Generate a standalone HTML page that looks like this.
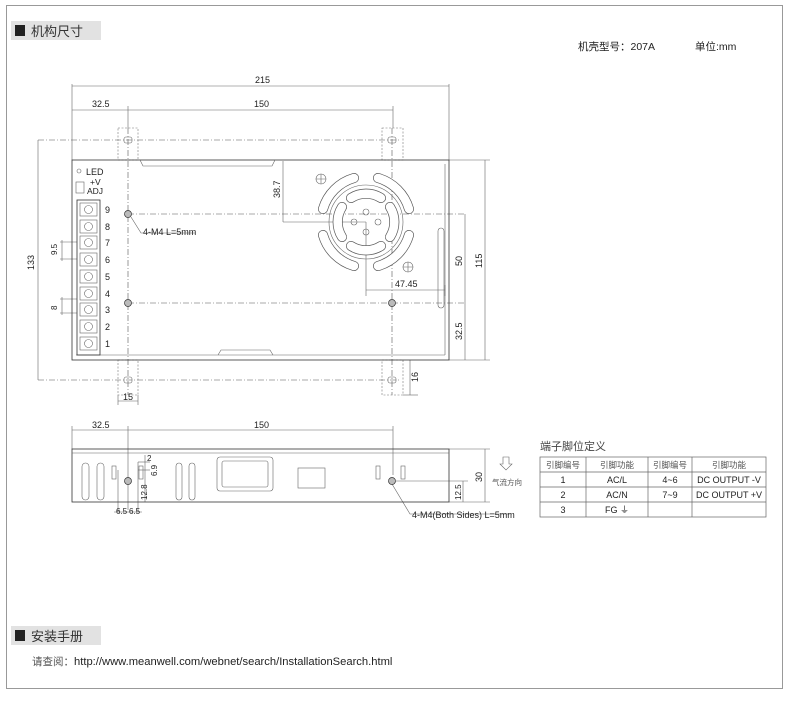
<!DOCTYPE html>
<html><head><meta charset="utf-8"><style>
html,body{margin:0;padding:0;background:#fff;}
svg{display:block;}
text{font-family:"Liberation Sans","Noto Sans CJK SC",sans-serif;fill:#222;}
.t{font-size:9px;}
.l{stroke:#333;stroke-width:0.8;fill:none;}
.g{stroke:#666;stroke-width:0.6;fill:none;}
.d{stroke:#555;stroke-width:0.6;fill:none;stroke-dasharray:6 2 1 2;}
.s{stroke:#777;stroke-width:0.6;fill:none;stroke-dasharray:2 1.5;}
</style></head><body>
<svg width="790" height="701" viewBox="0 0 790 701" xmlns="http://www.w3.org/2000/svg">
<rect x="6.5" y="5.5" width="776" height="683" fill="none" stroke="#999" stroke-width="1"/>
<!-- headings -->
<rect x="11" y="21" width="90" height="19" fill="#e2e2e2"/>
<rect x="15" y="25" width="10" height="11" fill="#222"/>
<text x="31" y="36" style="font-size:13px;fill:#333">机构尺寸</text>
<text x="578" y="50" style="font-size:10.5px">机壳型号：207A</text>
<text x="695" y="50" style="font-size:10.5px">单位:mm</text>
<rect x="11" y="626" width="90" height="19" fill="#e2e2e2"/>
<rect x="15" y="630" width="10" height="11" fill="#222"/>
<text x="31" y="641" style="font-size:13px;fill:#333">安装手册</text>
<text x="32" y="665" style="font-size:11.2px"><tspan style="font-size:10.5px;fill:#555">请查阅：</tspan>http://www.meanwell.com/webnet/search/InstallationSearch.html</text>

<!-- TOP VIEW dims -->
<g class="g">
<line x1="72" y1="86" x2="449" y2="86"/>
<line x1="72" y1="84" x2="72" y2="160"/><line x1="449" y1="84" x2="449" y2="160"/>
<line x1="72" y1="110" x2="393" y2="110"/>
<line x1="128" y1="106" x2="128" y2="128"/><line x1="393" y1="106" x2="393" y2="128"/>
<line x1="38" y1="140" x2="38" y2="380"/>
<line x1="485" y1="160" x2="485" y2="360"/>
<line x1="465" y1="214" x2="465" y2="360"/>
<line x1="449" y1="160" x2="490" y2="160"/><line x1="449" y1="360" x2="490" y2="360"/>
<line x1="283" y1="161" x2="283" y2="222"/><line x1="283" y1="222" x2="366" y2="222"/>
<line x1="366" y1="222" x2="366" y2="296"/>
<line x1="366" y1="290" x2="445" y2="290"/><line x1="445" y1="285" x2="445" y2="296"/>
<line x1="410" y1="360" x2="410" y2="395"/><line x1="403" y1="395" x2="418" y2="395"/>
<line x1="118" y1="401" x2="138" y2="401"/><line x1="118" y1="395" x2="118" y2="405"/><line x1="138" y1="395" x2="138" y2="405"/>
<line x1="60" y1="242" x2="77" y2="242"/><line x1="60" y1="259" x2="77" y2="259"/><line x1="62" y1="240" x2="62" y2="261"/>
<line x1="60" y1="299" x2="77" y2="299"/><line x1="60" y1="313" x2="77" y2="313"/><line x1="62" y1="297" x2="62" y2="315"/>
</g>
<g class="t">
<text x="255" y="83">215</text><text x="92" y="107">32.5</text><text x="254" y="107">150</text>
<text transform="translate(34,270) rotate(-90)">133</text>
<text transform="translate(482,268) rotate(-90)">115</text>
<text transform="translate(462,266) rotate(-90)">50</text>
<text transform="translate(462,340) rotate(-90)">32.5</text>
<text transform="translate(280,198) rotate(-90)">38.7</text>
<text x="395" y="287">47.45</text>
<text transform="translate(418,382) rotate(-90)">16</text>
<text x="123" y="400">15</text>
<text transform="translate(57,255) rotate(-90)" style="font-size:8px">9.5</text>
<text transform="translate(57,310) rotate(-90)" style="font-size:8px">8</text>
</g>
<!-- dash-dot center lines -->
<g class="d">
<line x1="38" y1="140" x2="400" y2="140"/>
<line x1="38" y1="380" x2="400" y2="380"/>
<line x1="128" y1="214" x2="465" y2="214"/>
<line x1="128" y1="303" x2="465" y2="303"/>
<line x1="128" y1="128" x2="128" y2="395"/>
<line x1="392" y1="128" x2="392" y2="395"/>
</g>
<!-- tabs -->
<g class="s">
<rect x="118" y="128" width="20" height="32"/><rect x="382" y="128" width="21" height="32"/>
<rect x="118" y="360" width="20" height="35"/><rect x="382" y="360" width="21" height="35"/>
</g>
<g class="g"><rect x="124" y="137" width="8" height="6" rx="2"/><rect x="388" y="137" width="8" height="6" rx="2"/>
<rect x="124" y="377" width="8" height="6" rx="2"/><rect x="388" y="377" width="8" height="6" rx="2"/></g>
<!-- body -->
<rect x="72" y="160" width="377" height="200" class="l"/>
<g class="g">
<line x1="76" y1="355" x2="445" y2="355"/><line x1="445" y1="164" x2="445" y2="355"/>
<path d="M140 160 l3 6 h129 l3 -6"/>
<path d="M218 355 l3 -5 h49 l3 5"/>
<rect x="438" y="228" width="6" height="80" rx="3"/>
</g>
<!-- terminals -->
<circle cx="79" cy="171" r="2" class="g"/>
<text x="86" y="175" class="t">LED</text>
<rect x="76" y="182" width="8" height="11" class="g"/>
<text x="90" y="185" class="t" style="font-size:8.5px">+V</text>
<text x="87" y="194" class="t" style="font-size:8.5px">ADJ</text>
<rect x="77" y="200" width="23" height="155" class="l"/>
<g class="g">
<rect x="80" y="203" width="17" height="13"/><rect x="80" y="220" width="17" height="13"/><rect x="80" y="236" width="17" height="13"/>
<rect x="80" y="253" width="17" height="13"/><rect x="80" y="270" width="17" height="13"/><rect x="80" y="287" width="17" height="13"/>
<rect x="80" y="303" width="17" height="13"/><rect x="80" y="320" width="17" height="13"/><rect x="80" y="337" width="17" height="13"/>
<circle cx="88.5" cy="209.5" r="4"/><circle cx="88.5" cy="226.5" r="4"/><circle cx="88.5" cy="242.5" r="4"/>
<circle cx="88.5" cy="259.5" r="4"/><circle cx="88.5" cy="276.5" r="4"/><circle cx="88.5" cy="293.5" r="4"/>
<circle cx="88.5" cy="309.5" r="4"/><circle cx="88.5" cy="326.5" r="4"/><circle cx="88.5" cy="343.5" r="4"/>
</g>
<g class="t"><text x="105" y="213">9</text><text x="105" y="230">8</text><text x="105" y="246">7</text><text x="105" y="263">6</text><text x="105" y="280">5</text><text x="105" y="297">4</text><text x="105" y="313">3</text><text x="105" y="330">2</text><text x="105" y="347">1</text></g>
<!-- holes -->
<g fill="#bbb" stroke="#333" stroke-width="0.7">
<circle cx="128" cy="214" r="3.5"/><circle cx="128" cy="303" r="3.5"/><circle cx="392" cy="214" r="3.5"/><circle cx="392" cy="303" r="3.5"/>
</g>
<path d="M131 217 l10 16 h54" class="g"/>
<text x="143" y="235" class="t">4-M4 L=5mm</text>
<!-- fan -->
<g transform="translate(366,222)">
<g stroke="#555" stroke-width="10" fill="none" stroke-linecap="round">
<path d="M -12 -44 A 45.5 45.5 0 0 0 -43 -13"/><path d="M 12 -44 A 45.5 45.5 0 0 1 43 -13"/>
<path d="M -12 44 A 45.5 45.5 0 0 1 -43 13"/><path d="M 12 44 A 45.5 45.5 0 0 0 43 13"/>
<path d="M -15 -24 A 28 28 0 0 1 15 -24"/><path d="M -15 24 A 28 28 0 0 0 15 24"/>
<path d="M -24 -15 A 28 28 0 0 0 -24 15"/><path d="M 24 -15 A 28 28 0 0 1 24 15"/>
</g>
<g stroke="#fff" stroke-width="8.6" fill="none" stroke-linecap="round">
<path d="M -12 -44 A 45.5 45.5 0 0 0 -43 -13"/><path d="M 12 -44 A 45.5 45.5 0 0 1 43 -13"/>
<path d="M -12 44 A 45.5 45.5 0 0 1 -43 13"/><path d="M 12 44 A 45.5 45.5 0 0 0 43 13"/>
<path d="M -15 -24 A 28 28 0 0 1 15 -24"/><path d="M -15 24 A 28 28 0 0 0 15 24"/>
<path d="M -24 -15 A 28 28 0 0 0 -24 15"/><path d="M 24 -15 A 28 28 0 0 1 24 15"/>
</g>
<circle r="37" class="g"/>
<g class="g"><circle cx="0" cy="-10" r="3"/><circle cx="-12" cy="0" r="3"/><circle cx="12" cy="0" r="3"/><circle cx="0" cy="10" r="3"/></g>
<g class="g"><circle cx="-45" cy="-43" r="5"/><path d="M-50 -43 h10 M-45 -48 v10"/><circle cx="42" cy="45" r="5"/><path d="M37 45 h10 M42 40 v10"/></g>
</g>

<!-- SIDE VIEW -->
<g class="g">
<line x1="72" y1="430" x2="393" y2="430"/>
<line x1="72" y1="426" x2="72" y2="449"/><line x1="128" y1="426" x2="128" y2="510"/><line x1="393" y1="426" x2="393" y2="475"/>
<line x1="485" y1="449" x2="485" y2="502"/><line x1="449" y1="449" x2="490" y2="449"/><line x1="449" y1="502" x2="490" y2="502"/>
<line x1="463" y1="481" x2="463" y2="502"/><line x1="396" y1="481" x2="468" y2="481"/>
<line x1="118" y1="470" x2="118" y2="512"/><line x1="138" y1="462" x2="138" y2="512"/>
<line x1="114" y1="512" x2="142" y2="512"/>
<line x1="138" y1="462" x2="150" y2="462"/><line x1="138" y1="470" x2="150" y2="470"/><line x1="145" y1="455" x2="145" y2="502"/>
<path d="M392 484 l18 30 h100"/>
</g>
<g class="t">
<text x="92" y="428">32.5</text><text x="254" y="428">150</text>
<text transform="translate(482,482) rotate(-90)">30</text>
<text transform="translate(461,500) rotate(-90)" style="font-size:8px">12.5</text>
<text x="147" y="461" style="font-size:8px">2</text>
<text transform="translate(157,476) rotate(-90)" style="font-size:8px">6.9</text>
<text transform="translate(147,500) rotate(-90)" style="font-size:8px">12.8</text>
<text x="116" y="514" style="font-size:8px">6.5</text><text x="129" y="514" style="font-size:8px">6.5</text>
<text x="412" y="518">4-M4(Both Sides) L=5mm</text>
</g>
<rect x="72" y="449" width="377" height="53" class="l"/>
<line x1="72" y1="453" x2="449" y2="453" class="g"/>
<g class="g">
<rect x="82" y="463" width="7" height="37" rx="3.5"/><rect x="97" y="463" width="7" height="37" rx="3.5"/>
<rect x="112" y="466" width="4" height="13"/><rect x="139" y="466" width="4" height="13"/>
<rect x="176" y="463" width="6" height="37" rx="3"/><rect x="189" y="463" width="6" height="37" rx="3"/>
<rect x="217" y="457" width="56" height="34" rx="3"/><rect x="222" y="461" width="46" height="26" rx="2"/>
<rect x="298" y="468" width="27" height="20"/>
<rect x="376" y="466" width="4" height="13"/><rect x="401" y="466" width="4" height="13"/>
</g>
<g fill="#bbb" stroke="#333" stroke-width="0.7"><circle cx="128" cy="481" r="3.5"/><circle cx="392" cy="481" r="3.5"/></g>
<!-- airflow -->
<path d="M503 457 v7 h-3 l6 6 l6 -6 h-3 v-7 z" class="g"/>
<text x="492" y="485" style="font-size:7.5px;fill:#555">气流方向</text>
<!-- table -->
<text x="540" y="450" style="font-size:11px;fill:#444">端子脚位定义</text>
<g stroke="#666" stroke-width="0.7" fill="none">
<rect x="540" y="457" width="226" height="60"/>
<line x1="540" y1="472" x2="766" y2="472"/><line x1="540" y1="487" x2="766" y2="487"/><line x1="540" y1="502" x2="766" y2="502"/>
<line x1="586" y1="457" x2="586" y2="517"/><line x1="648" y1="457" x2="648" y2="517"/><line x1="692" y1="457" x2="692" y2="517"/>
</g>
<g style="font-size:9px" text-anchor="middle">
<text x="563" y="468" style="font-size:8.5px;fill:#555">引脚编号</text><text x="617" y="468" style="font-size:8.5px;fill:#555">引脚功能</text>
<text x="670" y="468" style="font-size:8.5px;fill:#555">引脚编号</text><text x="729" y="468" style="font-size:8.5px;fill:#555">引脚功能</text>
<text x="563" y="483">1</text><text x="617" y="483">AC/L</text><text x="670" y="483">4~6</text><text x="729" y="483">DC OUTPUT -V</text>
<text x="563" y="498">2</text><text x="617" y="498">AC/N</text><text x="670" y="498">7~9</text><text x="729" y="498">DC OUTPUT +V</text>
<text x="563" y="513">3</text><text x="617" y="513">FG ⏚</text>
</g>
</svg>
</body></html>
